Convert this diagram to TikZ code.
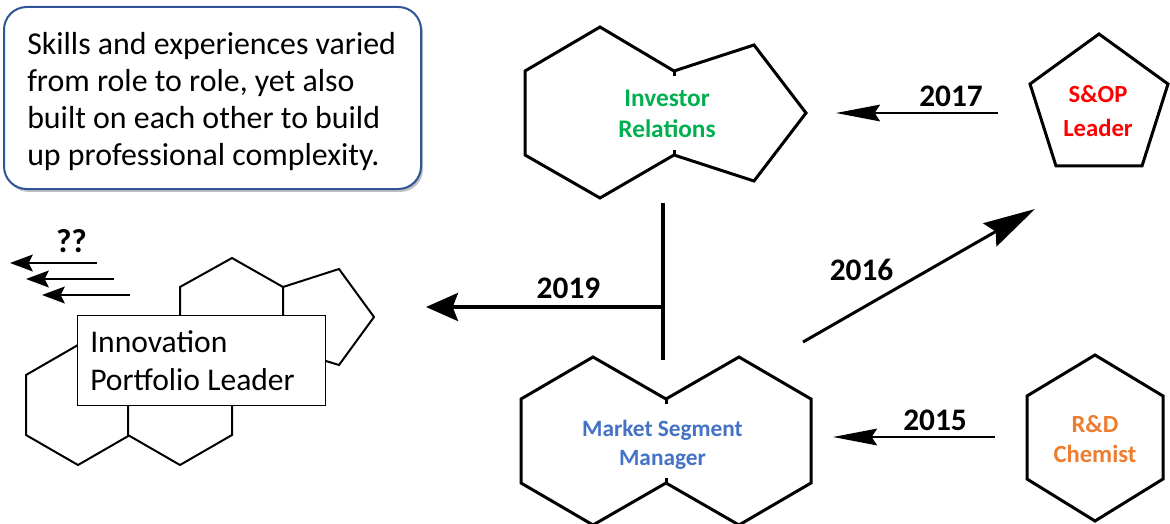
\documentclass[tikz,border=0pt]{standalone}
\usepackage{fontspec}
\setmainfont{Carlito}
\usetikzlibrary{arrows.meta,shadows}
\definecolor{irgreen}{HTML}{00B050}
\definecolor{msblue}{HTML}{4472C4}
\definecolor{sopred}{HTML}{FF0000}
\definecolor{rdorange}{HTML}{ED7D31}
\definecolor{noteblue}{HTML}{2F5597}
\begin{document}
\begin{tikzpicture}[x=0.75pt,y=-0.75pt,
  shapeline/.style={draw=black,line width=2.25pt,line join=miter,fill=white},
  smallshape/.style={draw=black,line width=1.5pt,line join=miter,fill=white},
  lbl/.style={inner sep=0pt,align=center,anchor=base},
  yearlbl/.style={inner sep=0pt,anchor=base,font={\bfseries\fontsize{23.5}{28}\selectfont}},
  notebox/.style={draw=noteblue,line width=1.5pt,fill=white,rounded corners=17pt,
    drop shadow={shadow xshift=1.5pt,shadow yshift=-2.2pt,fill=black!45,opacity=0.55}},
  ipbox/.style={draw=black,line width=0.75pt,fill=white,inner sep=0pt},
  thinarrow/.style={line width=1.5pt,-{Stealth[length=33pt,width=12.5pt,inset=4pt]}},
  qarrow/.style={line width=1.8pt,-{Stealth[length=17pt,width=12.5pt,inset=3pt]}},
]
\useasboundingbox (0,0) rectangle (1170,524);

% ---------- note box ----------
\node[notebox,minimum width=312.75pt,minimum height=136.5pt] (note) at (212.5,98) {};
\node[inner sep=0pt,anchor=base west,align=left,font={\fontsize{23.9}{27.9}\selectfont}] (notetxt) at (27,166)
  {Skills and experiences varied\\from role to role, yet also\\built on each other to build\\up professional complexity.};

% ---------- left cluster ----------
\draw[smallshape] (26,375) -- (78,345) -- (130,375) -- (130,435) -- (78,465) -- (26,435) -- cycle;
\draw[smallshape] (128,375) -- (180,345) -- (232,375) -- (232,435) -- (180,465) -- (128,435) -- cycle;
\draw[smallshape] (180,287) -- (232,258) -- (283,287) -- (283,348) -- (232,378) -- (180,348) -- cycle;
\draw[smallshape] (283,287) -- (339,269) -- (374,317) -- (339,365) -- (283,348) -- cycle;
\node[ipbox,minimum width=186pt,minimum height=67.5pt] (ipl) at (201,360) {};
\node[inner sep=0pt,anchor=base west,align=left,font={\fontsize{23.7}{28.5}\selectfont}] (ipltxt) at (90,390)
  {Innovation\\Portfolio Leader};

% ---------- ?? arrows ----------
\coordinate (q1s) at (97,263);  \coordinate (q1e) at (10,263);
\coordinate (q2s) at (114,279); \coordinate (q2e) at (26,279);
\coordinate (q3s) at (130,295); \coordinate (q3e) at (42,295);
\draw[qarrow] (q1s) -- (q1e);
\draw[qarrow] (q2s) -- (q2e);
\draw[qarrow] (q3s) -- (q3e);
\node[inner sep=0pt,anchor=base,font={\bfseries\fontsize{25}{30}\selectfont}] (qq) at (71.5,252) {??};

% ---------- Investor Relations ----------
\draw[shapeline] (525,71) -- (600,27) -- (674,71) -- (754,45) -- (806,113) -- (754,181) -- (674,155) -- (600,198) -- (525,155) -- cycle;
\draw[line width=2.25pt] (674,71) -- (674,76) (674,155) -- (674,150);
\node[lbl,text=irgreen,font={\bfseries\fontsize{19}{23.25}\selectfont}] (ir) at (667,138) {Investor\\Relations};

% ---------- Market Segment Manager ----------
\draw[shapeline] (521,399) -- (593,357) -- (666,399) -- (739,357) -- (811,399) -- (811,483) -- (739,525) -- (666,483) -- (593,525) -- (521,483) -- cycle;
\draw[line width=2.25pt] (666,399) -- (666,404) (666,483) -- (666,478);
\node[lbl,text=msblue,font={\bfseries\fontsize{17.5}{21.75}\selectfont}] (msm) at (662.5,465) {Market Segment\\Manager};

% ---------- S&OP Leader ----------
\draw[shapeline] (1099,34) -- (1168,84) -- (1142,166) -- (1056,166) -- (1030,84) -- cycle;
\node[lbl,text=sopred,font={\bfseries\fontsize{18.5}{25.5}\selectfont}] (sop) at (1098,137) {S\&OP\\Leader};

% ---------- R&D Chemist ----------
\draw[shapeline] (1027,396) -- (1095,355) -- (1163,396) -- (1163,479) -- (1095,521) -- (1027,479) -- cycle;
\node[lbl,text=rdorange,font={\bfseries\fontsize{18.5}{22.5}\selectfont}] (rd) at (1095,462) {R\&D\\Chemist};

% ---------- 2019 ----------
\coordinate (vtop) at (663,203); \coordinate (vbot) at (663,360);
\coordinate (a19s) at (663,307); \coordinate (a19e) at (426,307);
\draw[line width=2.6pt] (vtop) -- (vbot);
\draw[line width=2.6pt,-{Stealth[length=24pt,width=21pt,inset=4pt]}] (a19s) -- (a19e);
\node[yearlbl] (y19) at (568.5,298) {2019};

% ---------- 2017 ----------
\coordinate (a17s) at (998,113); \coordinate (a17e) at (836,113);
\draw[thinarrow] (a17s) -- (a17e);
\node[yearlbl] (y17) at (951,107) {2017};

% ---------- 2016 ----------
\coordinate (a16s) at (803,342); \coordinate (a16e) at (1035,209);
\draw[line width=2.25pt,-{Stealth[length=39pt,width=20pt,inset=5pt]}] (a16s) -- (a16e);
\node[yearlbl] (y16) at (861.5,280) {2016};

% ---------- 2015 ----------
\coordinate (a15s) at (995,437); \coordinate (a15e) at (833,437);
\draw[thinarrow] (a15s) -- (a15e);
\node[yearlbl] (y15) at (935,430) {2015};
\end{tikzpicture}
\end{document}
